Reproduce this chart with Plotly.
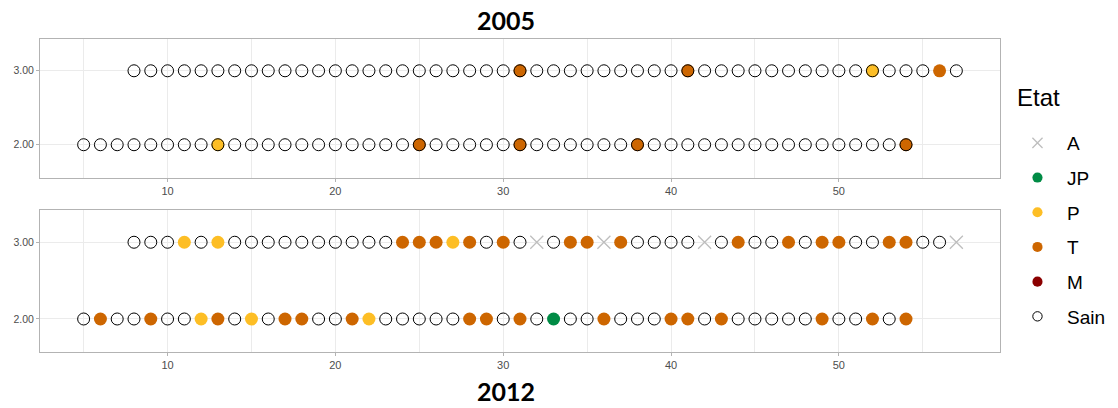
import plotly.graph_objects as go

# ---------------- data ----------------
states = ["A", "JP", "P", "T", "M", "Sain"]
state_colors = {"A": "#BEBEBE", "JP": "#008B45", "P": "#FDBE25", "T": "#CD6600", "M": "#8B0000", "Sain": "#000000"}

# 2005 : row 3 (positions 8..57), row 2 (positions 5..54)
p2005_row3_P = [52]
p2005_row3_T = [31, 41, 56]
p2005_row3_Sain = [x for x in range(8, 58) if x != 56]
p2005_row2_P = [13]
p2005_row2_T = [25, 31, 38, 54]
p2005_row2_Sain = list(range(5, 55))

# 2012
p2012_row3_A = [32, 36, 42, 57]
p2012_row3_P = [11, 13, 27]
p2012_row3_T = [24, 25, 26, 28, 30, 34, 35, 37, 44, 47, 49, 50, 53, 54]
p2012_row3_Sain = [8, 9, 10, 12, 14, 15, 16, 17, 18, 19, 20, 21, 22, 23, 29, 31, 33,
                   38, 39, 40, 41, 43, 45, 46, 48, 51, 52, 55, 56]
p2012_row2_JP = [33]
p2012_row2_P = [12, 15, 22]
p2012_row2_T = [6, 9, 13, 17, 18, 21, 28, 29, 31, 36, 40, 41, 43, 49, 52, 54]
p2012_row2_Sain = [5, 7, 8, 10, 11, 14, 16, 19, 20, 23, 24, 25, 26, 27, 30, 32, 34,
                   35, 37, 38, 39, 42, 44, 45, 46, 47, 48, 50, 51, 53]

panel_2005 = {
    "A": ([], []),
    "JP": ([], []),
    "P": (p2005_row3_P + p2005_row2_P, [3] * len(p2005_row3_P) + [2] * len(p2005_row2_P)),
    "T": (p2005_row3_T + p2005_row2_T, [3] * len(p2005_row3_T) + [2] * len(p2005_row2_T)),
    "M": ([], []),
    "Sain": (p2005_row3_Sain + p2005_row2_Sain, [3] * len(p2005_row3_Sain) + [2] * len(p2005_row2_Sain)),
}
panel_2012 = {
    "A": (p2012_row3_A, [3] * len(p2012_row3_A)),
    "JP": (p2012_row2_JP, [2] * len(p2012_row2_JP)),
    "P": (p2012_row3_P + p2012_row2_P, [3] * len(p2012_row3_P) + [2] * len(p2012_row2_P)),
    "T": (p2012_row3_T + p2012_row2_T, [3] * len(p2012_row3_T) + [2] * len(p2012_row2_T)),
    "M": ([], []),
    "Sain": (p2012_row3_Sain + p2012_row2_Sain, [3] * len(p2012_row3_Sain) + [2] * len(p2012_row2_Sain)),
}


def marker_for(state, legend=False):
    k = 0.78 if legend else 1.0
    if state == "A":
        return dict(symbol="x-thin", size=13 * k, line=dict(color=state_colors[state], width=1.3),
                    color=state_colors[state])
    if state == "Sain":
        return dict(symbol="circle-open", size=12 * k, color="#000000", line=dict(width=1))
    return dict(symbol="circle", size=13 * k, color=state_colors[state], line=dict(width=0))


fig = go.Figure()
for panel, xa, ya in [(panel_2005, "x", "y"), (panel_2012, "x2", "y2")]:
    for s in states:
        xs, ys = panel[s]
        if not xs:
            continue
        fig.add_trace(go.Scatter(
            x=xs, y=ys, mode="markers", name=s, legendgroup=s, showlegend=False,
            marker=marker_for(s), xaxis=xa, yaxis=ya, hoverinfo="skip",
        ))
# legend entries
for s in states:
    fig.add_trace(go.Scatter(
        x=[None], y=[None], mode="markers", name=s, legendgroup=s, showlegend=True,
        marker=marker_for(s, legend=True), xaxis="x", yaxis="y", hoverinfo="skip",
    ))

H = 408
def py(px):
    return 1 - px / H

axis_common = dict(
    showline=True, mirror=True, linecolor="#B3B3B3", linewidth=1,
    gridcolor="#EBEBEB", gridwidth=1, zeroline=False, automargin=False,
    ticks="outside", ticklen=3, tickcolor="#B3B3B3",
    tickfont=dict(family="Liberation Sans", size=11, color="#4D4D4D"),
)
xaxis_common = dict(axis_common, range=[2.4, 59.6], tickmode="array", tickvals=[10, 20, 30, 40, 50],
                    minor=dict(tickmode="array", tickvals=[5, 15, 25, 35, 45, 55], showgrid=True,
                               gridcolor="#EBEBEB", ticks=""))
yaxis_common = dict(axis_common, tickmode="array", tickvals=[2, 3], tickformat=".2f",
                    tickfont=dict(family="Liberation Sans", size=10.5, color="#4D4D4D"))

fig.update_layout(
    width=1118, height=408,
    margin=dict(l=40, r=118, t=0, b=0),
    paper_bgcolor="white", plot_bgcolor="white",
    xaxis=dict(xaxis_common, domain=[0, 1], anchor="y"),
    yaxis=dict(yaxis_common, domain=[py(178), py(39)], range=[1.55, 3.43], anchor="x"),
    xaxis2=dict(xaxis_common, domain=[0, 1], anchor="y2"),
    yaxis2=dict(yaxis_common, domain=[py(352), py(210)], range=[1.57, 3.42], anchor="x2"),
    legend=dict(
        font=dict(family="Liberation Sans", size=19, color="#000000"),
        x=1.0083, xanchor="left", y=py(124), yanchor="top",
        tracegroupgap=7, itemwidth=49, bgcolor="rgba(0,0,0,0)",
    ),
    annotations=[
        dict(text="<b>2005</b>", x=0.4854, y=py(20), xref="paper", yref="paper",
             showarrow=False, xanchor="center", yanchor="middle",
             font=dict(family="Lato", size=25, color="#000000")),
        dict(text="<b>2012</b>", x=0.4854, y=py(391), xref="paper", yref="paper",
             showarrow=False, xanchor="center", yanchor="middle",
             font=dict(family="Lato", size=25, color="#000000")),
        dict(text="Etat", x=(1015 - 40) / 960, y=py(97), xref="paper", yref="paper",
             showarrow=False, xanchor="left", yanchor="middle",
             font=dict(family="Liberation Sans", size=24, color="#000000")),
    ],
)

fig.write_html("out.html", config={"displayModeBar": False},
               post_script="document.body.style.margin='0px';document.body.style.padding='0px';")
